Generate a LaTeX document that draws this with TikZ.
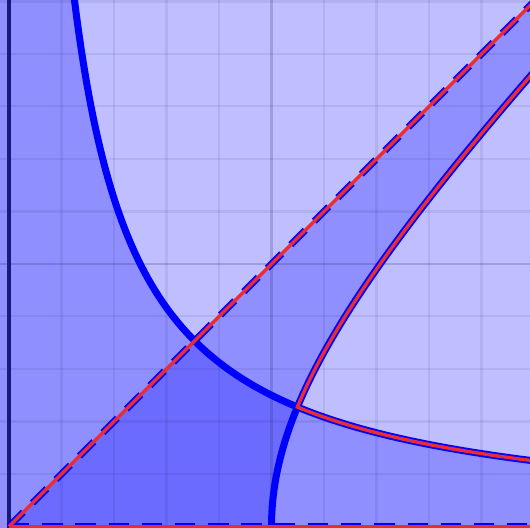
\documentclass[tikz,border=0pt]{standalone}
\definecolor{myred}{RGB}{235,45,50}
\definecolor{axisnavy}{RGB}{25,25,125}
\definecolor{gridnavy}{RGB}{40,40,110}
\definecolor{pureblue}{RGB}{0,0,255}
\begin{document}
\begin{tikzpicture}[x=5cm,y=5cm,
  gridline/.style={line width=1.1pt, draw=gridnavy, draw opacity=0.09},
  midline/.style={line width=1.4pt, draw=gridnavy, draw opacity=0.22},
  bluecurve/.style={line width=3.8pt, draw=pureblue},
  bluedash/.style={line width=3.8pt, draw=pureblue, dash pattern=on 11pt off 7pt},
  redcurve/.style={line width=1.8pt, draw=myred, line join=miter},
  shadefill/.style={fill=pureblue, fill opacity=0.25}]
\useasboundingbox (-0.0343,-0.0057) rectangle (1.9848,2.0057);
\clip (-0.0343,-0.0057) rectangle (1.9848,2.0057);
% background
\fill[pureblue!25] (-0.1,-0.1) rectangle (2.1,2.1);
% region xy < 1/2
\fill[shadefill] (-0.1,-0.1) -- (-0.1,2.1) -- plot[domain=0.238:2.1, samples=200] (\x,{0.5/\x}) -- (2.1,-0.1) -- cycle;
% region 0<y<x, x^2-y^2<1
\fill[shadefill] (0,0) -- (2.4,2.4) -- plot[domain=2.4:0, samples=150] ({sqrt(1+\x*\x)},\x) -- cycle;
% grid
\foreach \g in {0.2,0.4,0.6,0.8,1.2,1.4,1.6,1.8,2.0} {
  \draw[gridline] (\g,-0.1) -- (\g,2.1);
  \draw[gridline] (-0.1,\g) -- (2.1,\g);
}
\draw[midline] (1,-0.1) -- (1,2.1);
\draw[midline] (-0.1,1) -- (2.1,1);
\draw[line width=1.9pt, draw=axisnavy] (0,-0.1) -- (0,2.1);
% named points
\coordinate (O) at (0,0);
\coordinate (D) at (2.1,2.1);
\coordinate (E) at (2.1,0);
\coordinate (P) at (1.0987,0.4551);
% blue curves
\draw[bluecurve] plot[domain=0.238:2.1, samples=200] (\x,{0.5/\x});
\draw[bluecurve] plot[domain=0:2.1, samples=150] ({sqrt(1+\x*\x)},\x);
\draw[bluedash] (O) -- (D);
\draw[bluedash] (O) -- (E);
% red boundaries
\draw[redcurve] (O) -- (D);
\draw[redcurve] (O) -- (E);
\draw[redcurve] plot[domain=2.1:1.0987, samples=120] (\x,{0.5/\x}) -- plot[domain=0.4551:2.1, samples=120] ({sqrt(1+\x*\x)},\x);
\end{tikzpicture}
\end{document}
